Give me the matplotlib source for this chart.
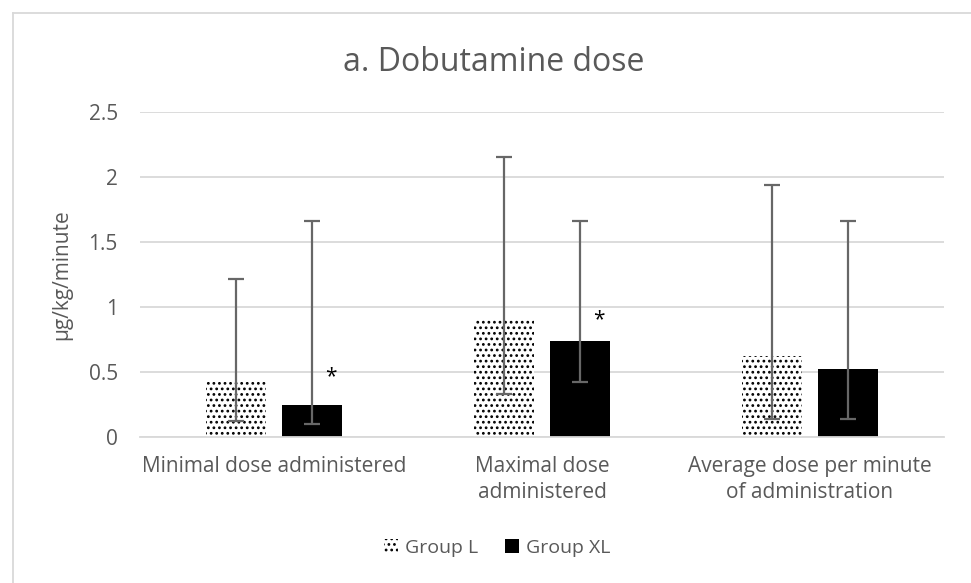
import matplotlib
matplotlib.use('Agg')
import matplotlib.pyplot as plt
import numpy as np

plt.rcParams['font.family'] = ['Open Sans', 'DejaVu Sans']
plt.rcParams['hatch.linewidth'] = 1.2

categories = ["Minimal dose administered", "Maximal dose\nadministered",
              "Average dose per minute\nof administration"]
series = ["Group L", "Group XL"]
group_l = [0.42, 0.905, 0.625]
group_xl = [0.25, 0.74, 0.52]
# error bar ends (absolute values, asymmetric)
l_low = [0.125, 0.33, 0.135]
l_high = [1.215, 2.155, 1.94]
xl_low = [0.10, 0.425, 0.135]
xl_high = [1.665, 1.665, 1.665]
# significance marks: category index, height
star_idx = [0, 1]
star_y = [0.46, 0.90]

grey = '#595959'
fig = plt.figure(figsize=(9.71, 5.83), dpi=100)
ax = fig.add_axes([0.1442, 0.2504, 0.828, 0.5575])

x = np.arange(len(categories))
w = 0.224
off = 0.142
bl = ax.bar(x - off, group_l, w, color='white', edgecolor='black', hatch='...',
            linewidth=0, label=series[0], zorder=2)
bx = ax.bar(x + off, group_xl, w, color='black', linewidth=0, label=series[1], zorder=2)

gl = np.array(group_l); gx = np.array(group_xl)
ax.errorbar(x - off, gl, yerr=[gl - np.array(l_low), np.array(l_high) - gl], fmt='none',
            ecolor='#676767', elinewidth=1.6, capsize=6, capthick=1.6, zorder=3)
ax.errorbar(x + off, gx, yerr=[gx - np.array(xl_low), np.array(xl_high) - gx], fmt='none',
            ecolor='#676767', elinewidth=1.6, capsize=6, capthick=1.6, zorder=3)

for i, yy in zip(star_idx, star_y):
    ax.text(x[i] + off + 0.07, yy, '*', ha='center', va='center', fontsize=15, color='black')

ax.set_xlim(-0.5, len(categories) - 0.5)
ax.set_ylim(0, 2.5)
ax.set_yticks([0, 0.5, 1, 1.5, 2, 2.5])
ax.set_yticklabels(['0', '0.5', '1', '1.5', '2', '2.5'])
ax.set_xticks(x)
ax.set_xticklabels(categories, linespacing=1.3)
ax.yaxis.grid(True, color='#d9d9d9', linewidth=1.3, zorder=0)
ax.set_axisbelow(True)
for s in ['top', 'right', 'left']:
    ax.spines[s].set_visible(False)
ax.spines['bottom'].set_color('#d9d9d9')
ax.spines['bottom'].set_linewidth(1.3)
ax.tick_params(axis='both', length=0, colors=grey, labelsize=15)
ax.tick_params(axis='x', pad=14)
ax.tick_params(axis='y', pad=16)
ax.set_ylabel('µg/kg/minute', color=grey, fontsize=15, labelpad=12)

fig.text(0.508, 0.893, 'a. Dobutamine dose', ha='center', va='center', fontsize=23, color=grey)

leg = fig.legend(handles=[bl, bx], labels=series, loc='center', bbox_to_anchor=(0.512, 0.06),
                 ncol=2, frameon=False, fontsize=14, handlelength=0.7, handleheight=0.7,
                 handletextpad=0.35, columnspacing=1.4)
for t in leg.get_texts():
    t.set_color(grey)

# chart border (only top/left visible in the crop)
fig.add_artist(plt.Line2D([13 / 971, 13 / 971], [0, 1 - 13 / 583], transform=fig.transFigure,
                          color='#d9d9d9', linewidth=1.3))
fig.add_artist(plt.Line2D([13 / 971, 1], [1 - 13 / 583, 1 - 13 / 583], transform=fig.transFigure,
                          color='#d9d9d9', linewidth=1.3))

fig.savefig('out.png', dpi=100)
